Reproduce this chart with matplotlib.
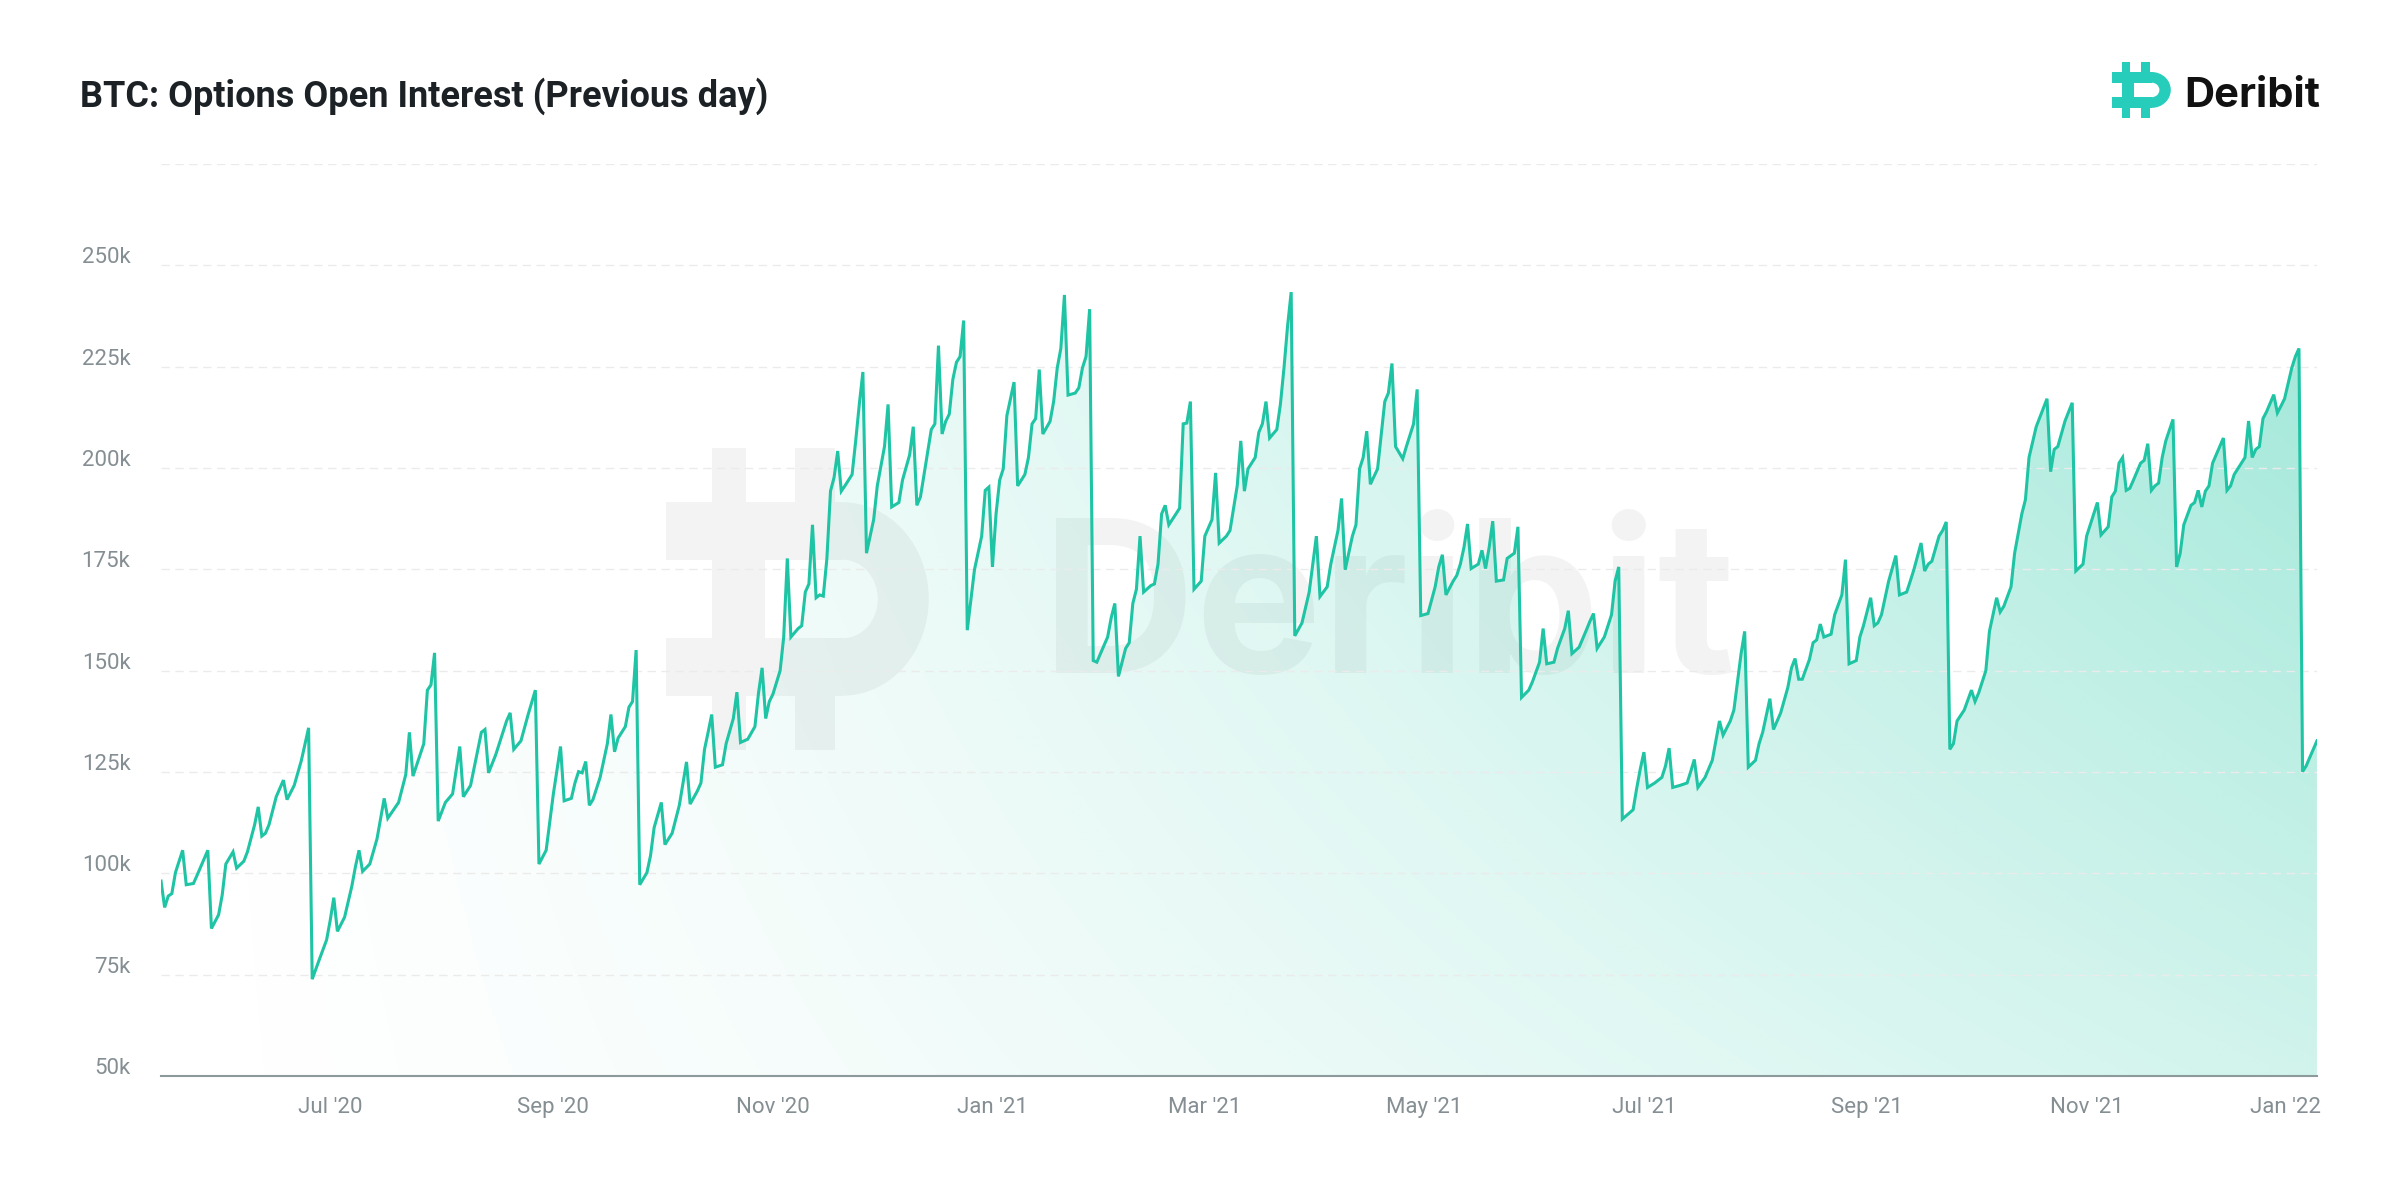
import numpy as np
import pandas as pd
import matplotlib
matplotlib.use('Agg')
import matplotlib.pyplot as plt
import matplotlib.dates as mdates
from matplotlib.patches import Rectangle, Wedge, Polygon
from matplotlib.transforms import ScaledTranslation

# ---- data (day number counted from the first day, OI in thousands of BTC) ----
start_date = '2020-05-15'
days = [0, 1, 2, 3, 4, 6, 7, 9, 10, 13,
        14, 16, 17, 18, 20, 21, 23, 24, 26, 27,
        28, 29, 30, 32, 34, 35, 37, 39, 41, 42,
        44, 46, 47, 48, 49, 51, 53, 54, 55, 56,
        58, 60, 62, 63, 66, 68, 69, 70, 73, 74,
        75, 76, 77, 79, 81, 83, 84, 86, 89, 90,
        91, 93, 96, 97, 98, 100, 102, 104, 105, 107,
        109, 111, 112, 114, 115, 116, 117, 118, 119, 120,
        122, 124, 125, 126, 127, 129, 130, 131, 132, 133,
        135, 136, 137, 139, 140, 142, 144, 146, 147, 149,
        150, 151, 152, 153, 154, 156, 157, 159, 160, 161,
        163, 165, 166, 167, 168, 169, 170, 172, 173, 174,
        175, 177, 178, 179, 180, 181, 182, 183, 184, 185,
        186, 187, 188, 189, 190, 192, 193, 194, 195, 196,
        197, 198, 199, 201, 202, 203, 205, 206, 208, 209,
        210, 211, 213, 214, 215, 216, 217, 218, 219, 220,
        221, 222, 223, 224, 226, 228, 229, 230, 231, 232,
        233, 234, 235, 237, 238, 240, 241, 242, 243, 244,
        245, 247, 248, 249, 250, 251, 252, 254, 255, 256,
        257, 258, 259, 260, 261, 263, 264, 265, 266, 268,
        269, 270, 271, 272, 273, 275, 276, 277, 278, 279,
        280, 282, 283, 284, 285, 286, 287, 289, 290, 292,
        293, 294, 296, 297, 299, 300, 301, 302, 304, 305,
        306, 307, 308, 310, 311, 312, 313, 314, 315, 317,
        319, 320, 321, 322, 324, 325, 326, 327, 328, 329,
        331, 332, 333, 334, 335, 336, 338, 339, 340, 341,
        342, 343, 345, 346, 348, 349, 350, 352, 354, 355,
        356, 357, 359, 360, 361, 362, 363, 364, 366, 367,
        368, 369, 370, 371, 373, 374, 376, 377, 378, 380,
        381, 383, 384, 385, 387, 388, 390, 391, 392, 394,
        396, 397, 398, 399, 401, 403, 404, 405, 406, 409,
        410, 411, 412, 413, 415, 417, 418, 419, 420, 422,
        424, 425, 426, 427, 429, 431, 432, 433, 434, 436,
        437, 438, 439, 440, 441, 443, 444, 445, 447, 448,
        450, 452, 453, 454, 455, 456, 458, 459, 460, 461,
        462, 464, 465, 467, 468, 469, 471, 472, 473, 475,
        476, 477, 478, 480, 482, 483, 485, 486, 487, 489,
        490, 491, 492, 494, 495, 496, 497, 498, 499, 501,
        503, 504, 505, 507, 508, 510, 511, 512, 514, 515,
        517, 518, 519, 521, 524, 525, 526, 527, 529, 531,
        532, 534, 535, 537, 538, 539, 541, 542, 543, 544,
        545, 546, 547, 548, 550, 551, 552, 553, 554, 555,
        556, 557, 559, 560, 561, 562, 564, 565, 566, 567,
        568, 569, 570, 572, 573, 574, 575, 576, 578, 579,
        580, 581, 582, 583, 584, 585, 587, 588, 589, 590,
        592, 593, 594, 595, 596, 597, 599]
oi_k = [98.1, 91.6, 94.4, 95.0, 100.2, 105.7, 97.2, 97.5, 99.5, 105.7,
        86.4, 89.8, 94.7, 102.3, 105.3, 101.3, 103.0, 105.3, 112.0, 116.4,
        109.2, 109.9, 112.0, 118.9, 123.0, 118.2, 121.7, 127.9, 135.9, 73.9,
        78.8, 83.6, 88.4, 94.0, 85.7, 89.2, 96.8, 101.6, 105.7, 100.5,
        102.3, 108.5, 118.5, 113.6, 117.5, 124.4, 134.8, 124.0, 132.0, 145.2,
        146.5, 154.4, 112.9, 117.5, 119.6, 131.3, 118.9, 121.7, 134.8, 135.5,
        124.8, 129.3, 137.6, 139.6, 130.6, 132.7, 139.2, 145.2, 102.3, 105.7,
        119.6, 131.3, 117.9, 118.5, 122.3, 125.1, 124.8, 127.6, 116.8, 118.2,
        123.7, 132.0, 139.2, 130.0, 133.4, 136.2, 141.0, 142.4, 155.1, 97.2,
        100.2, 104.4, 111.3, 117.5, 107.1, 109.9, 116.8, 127.5, 117.1, 120.3,
        122.3, 130.6, 134.8, 139.2, 126.2, 126.8, 132.0, 138.2, 144.7, 132.3,
        133.1, 136.2, 144.5, 150.7, 138.2, 142.4, 144.2, 150.0, 158.3, 177.7,
        158.3, 160.4, 161.1, 169.4, 171.4, 186.0, 168.0, 168.7, 168.4, 177.7,
        194.3, 197.7, 204.2, 194.3, 195.6, 198.4, 206.7, 215.7, 223.7, 179.0,
        183.2, 187.3, 195.6, 205.3, 215.7, 190.4, 191.5, 197.0, 203.3, 210.2,
        190.8, 192.9, 203.9, 209.5, 210.9, 230.2, 208.4, 211.5, 213.3, 221.9,
        226.1, 227.5, 236.4, 160.0, 174.9, 183.2, 194.5, 195.3, 175.6, 188.7,
        197.0, 199.8, 212.9, 221.2, 195.6, 198.4, 202.6, 210.9, 212.2, 224.3,
        208.4, 211.5, 216.4, 224.7, 229.5, 242.7, 218.0, 218.5, 219.8, 224.7,
        227.5, 239.2, 152.5, 152.1, 154.2, 158.3, 163.1, 166.6, 148.6, 155.5,
        156.9, 166.6, 170.1, 183.2, 169.4, 171.0, 171.4, 176.3, 188.7, 190.8,
        186.0, 188.7, 190.1, 210.9, 211.1, 216.4, 170.1, 172.1, 183.2, 187.3,
        198.8, 181.5, 183.2, 184.6, 195.6, 206.7, 194.3, 199.8, 202.6, 208.8,
        210.9, 216.4, 207.4, 209.5, 215.7, 224.7, 235.1, 243.4, 158.6, 161.8,
        169.4, 176.3, 183.2, 168.3, 170.7, 176.3, 180.4, 184.6, 192.5, 174.9,
        183.2, 186.0, 199.8, 202.6, 209.1, 196.0, 199.8, 208.1, 216.4, 218.5,
        225.8, 205.3, 202.3, 205.3, 210.9, 219.4, 163.6, 164.1, 170.7, 175.6,
        178.6, 168.7, 172.1, 173.5, 176.3, 180.4, 186.2, 175.2, 176.3, 179.7,
        175.2, 180.4, 186.9, 172.1, 172.4, 177.7, 179.0, 185.5, 143.4, 145.2,
        147.2, 152.1, 160.4, 151.7, 152.1, 155.5, 160.4, 164.8, 154.2, 155.8,
        160.0, 162.2, 164.1, 155.5, 158.3, 163.8, 172.1, 175.6, 113.4, 115.7,
        121.0, 125.8, 129.9, 121.2, 122.3, 123.7, 126.5, 130.9, 121.2, 121.7,
        122.3, 125.1, 128.1, 121.2, 123.7, 127.9, 132.7, 137.6, 134.1, 137.6,
        140.3, 147.2, 154.2, 159.7, 126.2, 127.9, 132.0, 134.8, 143.1, 135.5,
        139.6, 145.9, 150.7, 153.0, 147.9, 147.9, 152.8, 156.9, 157.6, 161.5,
        158.3, 159.0, 163.8, 168.7, 177.4, 151.7, 152.5, 158.3, 161.1, 168.0,
        161.1, 161.8, 163.8, 172.1, 178.4, 168.7, 169.4, 172.1, 174.9, 181.5,
        174.6, 176.3, 177.0, 183.2, 184.6, 186.7, 130.6, 132.0, 137.6, 140.3,
        145.2, 142.4, 144.5, 150.0, 159.7, 168.0, 164.5, 165.9, 170.7, 179.0,
        188.7, 192.2, 202.6, 210.2, 217.1, 199.1, 204.6, 205.3, 211.6, 216.1,
        174.6, 176.3, 183.2, 188.7, 191.5, 183.5, 185.5, 192.9, 194.3, 201.2,
        202.6, 194.5, 195.0, 197.0, 201.2, 201.9, 206.0, 194.5, 195.6, 196.3,
        202.6, 206.7, 212.0, 175.6, 179.0, 186.0, 190.8, 191.5, 194.5, 190.4,
        194.3, 195.6, 201.2, 205.3, 207.4, 194.5, 195.6, 198.4, 201.2, 202.6,
        211.6, 202.6, 204.6, 205.3, 212.2, 213.9, 218.1, 213.6, 215.3, 217.1,
        224.7, 227.5, 229.5, 125.1, 126.5, 128.6, 132.7]

y_ticks = [50000, 75000, 100000, 125000, 150000, 175000, 200000, 225000, 250000, 275000]
y_labels = ['50k', '75k', '100k', '125k', '150k', '175k', '200k', '225k', '250k', '']
x_tick_dates = ['2020-07-01', '2020-09-01', '2020-11-01', '2021-01-01', '2021-03-01',
                '2021-05-01', '2021-07-01', '2021-09-01', '2021-11-01', '2022-01-01']
x_labels = ["Jul '20", "Sep '20", "Nov '20", "Jan '21", "Mar '21",
            "May '21", "Jul '21", "Sep '21", "Nov '21", "Jan '22"]

title = 'BTC: Options Open Interest (Previous day)'

LINE = '#1ec4a4'
TEAL = np.array([30, 200, 165]) / 255
GREY_TXT = '#858f93'

dates = pd.Timestamp(start_date) + pd.to_timedelta(days, unit='D')
xnum = mdates.date2num(dates)
oi = np.array(oi_k) * 1000

plt.rcParams['font.family'] = ['Roboto', 'DejaVu Sans']

fig = plt.figure(figsize=(24, 12), dpi=100)


def draw_logo(lax, color):
    lax.set_xlim(0, 1)
    lax.set_ylim(0, 1)
    lax.axis('off')
    parts = [Rectangle((0.17, 0.82), 0.13, 0.18), Rectangle((0.48, 0.82), 0.15, 0.18),
             Rectangle((0.17, 0.0), 0.13, 0.18), Rectangle((0.48, 0.0), 0.15, 0.18),
             Rectangle((0.0, 0.63), 0.66, 0.19), Rectangle((0.0, 0.18), 0.66, 0.19),
             Rectangle((0.17, 0.18), 0.2, 0.64),
             Wedge((0.66, 0.5), 0.32, -90, 90, width=0.19)]
    for p in parts:
        p.set_facecolor(color)
        p.set_edgecolor('none')
        lax.add_patch(p)


# background watermark (behind the chart)
bg = fig.add_axes([0, 0, 1, 1], zorder=0)
bg.axis('off')
bg.text(0.5788, 0.439, 'Deribit', fontsize=153, fontweight='bold', family='Inter',
        color='#f3f3f3', ha='center', va='baseline')
wm = fig.add_axes([0.2775, 0.375, 0.1117, 0.2517], zorder=0)
draw_logo(wm, '#f3f3f3')

# main chart
ax = fig.add_axes([0.0671, 0.1033, 0.8983, 0.7600], zorder=1)
ax.patch.set_alpha(0)
ax.set_xlim(xnum[0], xnum[-1])
ax.set_ylim(50000, 275000)

# gradient fill under the line
verts = [(xnum[0], 50000)] + list(zip(xnum, oi)) + [(xnum[-1], 50000)]
poly = Polygon(verts, closed=True, facecolor='none', edgecolor='none')
ax.add_patch(poly)
gx, gy = np.meshgrid(np.linspace(0, 1, 600), np.linspace(0, 1, 300))
w = 0.46 * gx ** 1.3 * (0.45 + 0.55 * gy)
rgba = np.zeros((300, 600, 4))
rgba[..., :3] = TEAL
rgba[..., 3] = w
im = ax.imshow(rgba, extent=[xnum[0], xnum[-1], 50000, 275000], origin='lower',
               aspect='auto', zorder=1, interpolation='bilinear')
im.set_clip_path(poly)

ax.plot(xnum, oi, color=LINE, lw=2.2, zorder=3, solid_joinstyle='miter')

ax.set_yticks(y_ticks)
ax.set_yticklabels(y_labels)
ax.set_xticks(mdates.date2num(pd.to_datetime(x_tick_dates)))
ax.set_xticklabels(x_labels)
ax.grid(axis='y', color='#ebebeb', lw=1, dashes=(6, 4), zorder=0)
ax.grid(axis='x', visible=False)
for s in ['top', 'right', 'left']:
    ax.spines[s].set_visible(False)
ax.spines['bottom'].set_color('#8d9a9c')
ax.spines['bottom'].set_linewidth(1.5)
ax.spines['bottom'].set_zorder(4)
ax.tick_params(axis='both', length=0, labelsize=16, labelcolor=GREY_TXT)
ax.tick_params(axis='y', pad=22)
ax.tick_params(axis='x', pad=15)

for lab in ax.get_yticklabels():
    lab.set_transform(lab.get_transform() + ScaledTranslation(0, 0.1, fig.dpi_scale_trans))
last = ax.get_xticklabels()[-1]
last.set_transform(last.get_transform() + ScaledTranslation(-0.21, 0, fig.dpi_scale_trans))

# header
fig.text(0.0333, 0.9108, title, fontsize=26, fontweight='bold', color='#1b2125',
         ha='left', va='baseline')
fig.text(0.9667, 0.9108, 'Deribit', fontsize=30, fontweight='bold', family='Inter',
         color='#111111', ha='right', va='baseline')
lg = fig.add_axes([0.88, 0.9017, 0.025, 0.0467])
draw_logo(lg, '#26cdbb')

fig.savefig('out.png', dpi=100)
